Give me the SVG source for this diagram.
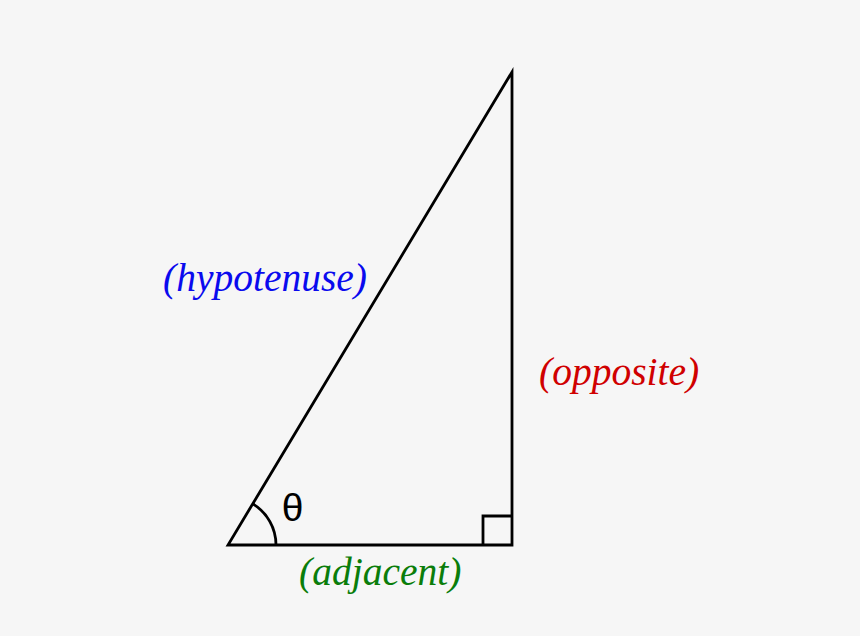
<svg xmlns="http://www.w3.org/2000/svg" width="860" height="636" viewBox="0 0 860 636">
<style>
.ln{fill:none;stroke:#000;stroke-width:2.8;stroke-linecap:butt;stroke-linejoin:miter}
.lbl{font-family:"Liberation Serif","Times New Roman",serif;font-style:italic;font-size:39.5px}
</style>
<rect width="860" height="636" fill="#f6f6f6"/>
<g id="triangle">
<path class="ln" d="M228,545 L512,545 L512,72 Z"/>
<path class="ln" d="M483,545 L483,516 L512,516"/>
<path class="ln" d="M276,545 A48,48 0 0 0 252.7,503.8"/>
</g>
<g id="labels">
<text x="292.5" y="521" font-family="'Liberation Sans',Arial,sans-serif" font-size="39" text-anchor="middle">θ</text>
<text class="lbl" x="163" y="291" fill="#0a0aee">(hypotenuse)</text>
<text class="lbl" x="539" y="385" fill="#d00000">(opposite)</text>
<text class="lbl" x="299" y="585" fill="#0a7d0a">(adjacent)</text>
</g>
</svg>
